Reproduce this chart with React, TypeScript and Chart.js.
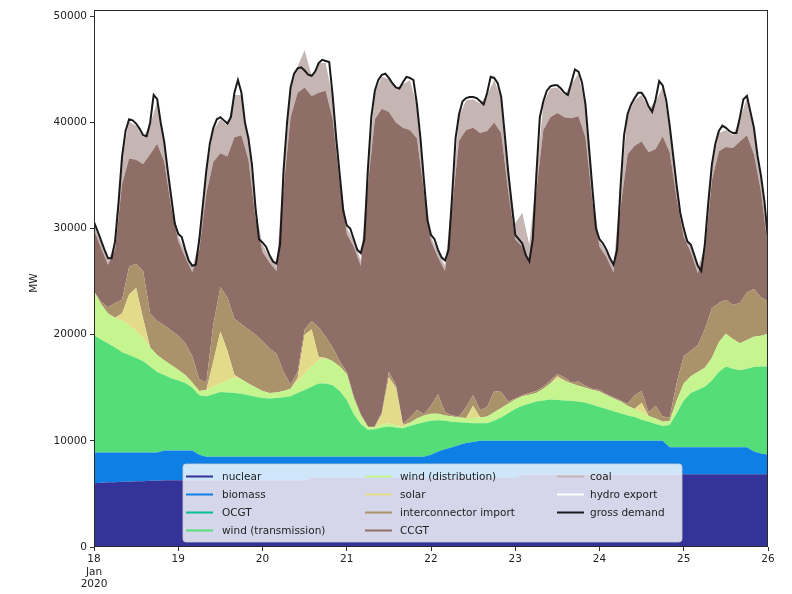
import React, { useEffect, useRef } from "react";
import { Chart, registerables } from "chart.js";

Chart.register(...registerables);

// ---------- tick labels ----------
const X_TICK_HOURS = [0, 24, 48, 72, 96, 120, 144, 168, 192];
const DAY_LABELS = ["18", "19", "20", "21", "22", "23", "24", "25", "26"];
const FIRST_LABEL = ["18", "Jan", "2020"];
const Y_TICKS = [0, 10000, 20000, 30000, 40000, 50000];
const Y_TITLE = "MW";

// time grid (hours since 18 Jan 2020 00:00)
const HOURS_2H = Array.from({ length: 97 }, (_, i) => i * 2);
const HOURS_1H = Array.from({ length: 193 }, (_, i) => i);

// ---------- series (MW), 2-hourly ----------
const NUCLEAR = [
  6000, 6050, 6100, 6100, 6150, 6150, 6200, 6200, 6250, 6250,
  6300, 6300, 6300, 6300, 6300, 6300, 6300, 6300, 6300, 6300,
  6300, 6300, 6300, 6300, 6300, 6300, 6300, 6300, 6300, 6300,
  6300, 6500, 6500, 6500, 6500, 6500, 6500, 6500, 6500, 6500,
  6500, 6500, 6500, 6500, 6500, 6500, 6500, 6500, 6500, 6500,
  6500, 6500, 6500, 6500, 6500, 6500, 6500, 6500, 6500, 6500,
  6500, 6800, 6800, 6800, 6800, 6800, 6800, 6800, 6800, 6800,
  6800, 6800, 6800, 6800, 6800, 6800, 6800, 6800, 6800, 6800,
  6800, 6800, 6800, 6800, 6850, 6850, 6850, 6850, 6850, 6850,
  6850, 6850, 6850, 6850, 6850, 6850, 6850,
];
const BIOMASS = [
  2900, 2850, 2800, 2800, 2750, 2750, 2700, 2700, 2650, 2650,
  2800, 2800, 2800, 2800, 2800, 2400, 2200, 2200, 2200, 2200,
  2200, 2200, 2200, 2200, 2200, 2200, 2200, 2200, 2200, 2200,
  2200, 2000, 2000, 2000, 2000, 2000, 2000, 2000, 2000, 2000,
  2000, 2000, 2000, 2000, 2000, 2000, 2000, 2000, 2200, 2500,
  2700, 2900, 3100, 3300, 3400, 3500, 3500, 3500, 3500, 3500,
  3500, 3200, 3200, 3200, 3200, 3200, 3200, 3200, 3200, 3200,
  3200, 3200, 3200, 3200, 3200, 3200, 3200, 3200, 3200, 3200,
  3200, 3200, 2600, 2600, 2550, 2550, 2550, 2550, 2550, 2550,
  2550, 2550, 2550, 2550, 2150, 1950, 1850,
];
const OCGT = [
  0, 0, 0, 0, 0, 0, 0, 0, 0, 0,
  0, 0, 0, 0, 0, 0, 0, 0, 0, 0,
  0, 0, 0, 0, 0, 0, 0, 0, 0, 0,
  0, 0, 0, 0, 0, 0, 0, 0, 0, 0,
  0, 0, 0, 0, 0, 0, 0, 0, 0, 0,
  0, 0, 0, 0, 0, 0, 0, 0, 0, 0,
  0, 0, 0, 0, 0, 0, 0, 0, 0, 0,
  0, 0, 0, 0, 0, 0, 0, 0, 0, 0,
  0, 0, 0, 0, 0, 0, 0, 0, 0, 0,
  0, 0, 0, 0, 0, 0, 0,
];
const WIND_TRANSMISSION = [
  11050, 10650, 10280, 9900, 9450, 9200, 8900, 8600, 8100, 7600,
  7100, 6800, 6600, 6350, 5900, 5600, 5700, 5900, 6100, 6050,
  6000, 5950, 5800, 5650, 5550, 5500, 5550, 5600, 5700, 6000,
  6300, 6600, 6900, 6900, 6750, 6200, 5350, 4000, 3100, 2550,
  2600, 2750, 2850, 2750, 2680, 2900, 3100, 3250, 3200, 2950,
  2700, 2400, 2150, 1900, 1750, 1650, 1650, 1900, 2200, 2600,
  3000, 3300, 3500, 3700, 3800, 3900, 3850, 3800, 3750, 3700,
  3600, 3400, 3200, 3000, 2800, 2600, 2400, 2250, 2000, 1800,
  1600, 1400, 2100, 3200, 4400, 5100, 5400, 5700, 6300, 7100,
  7600, 7400, 7250, 7400, 7950, 8200, 8300,
];
const WIND_DISTRIBUTION = [
  4150, 3350, 2820, 2800, 3000, 2800, 2550, 2200, 1800, 1600,
  1400, 1250, 1000, 750, 500, 400, 600, 700, 800, 1150,
  1500, 1350, 1100, 900, 650, 500, 500, 600, 700, 1100,
  1550, 1900, 2200, 2400, 2250, 2300, 2450, 1500, 800, 250,
  200, 300, 300, 250, 170, 300, 500, 650, 650, 600,
  500, 500, 450, 450, 500, 550, 650, 800, 900, 900,
  900, 900, 850, 800, 1100, 1500, 1950, 1900, 1650, 1500,
  1400, 1400, 1450, 1300, 1200, 1100, 900, 750, 700, 550,
  500, 400, 400, 1200, 1600, 1600, 1700, 1800, 2100, 2800,
  3100, 2800, 2550, 2700, 2850, 2900, 3100,
];
const SOLAR = [
  0, 0, 0, 0, 650, 2900, 4050, 1800, 0, 0,
  0, 0, 0, 0, 0, 0, 0, 2400, 4900, 2800,
  200, 0, 0, 0, 0, 0, 0, 0, 0, 300,
  3650, 3500, 300, 0, 0, 0, 0, 0, 0, 0,
  0, 950, 4350, 3500, 150, 0, 0, 0, 0, 0,
  0, 0, 0, 0, 1150, 0, 0, 0, 0, 0,
  0, 0, 0, 0, 0, 0, 300, 0, 0, 0,
  0, 0, 0, 0, 0, 0, 0, 0, 900, 0,
  0, 0, 0, 0, 0, 0, 0, 0, 0, 0,
  0, 0, 0, 0, 0, 0, 0,
];
const INTERCONNECTOR_IMPORT = [
  0, 200, 600, 1400, 1300, 2600, 2300, 4500, 3200, 3200,
  3300, 3250, 3200, 3000, 2500, 1100, 700, 3500, 4200, 5000,
  5300, 5200, 5100, 4950, 4700, 4200, 3650, 1800, 400, 600,
  500, 800, 2800, 2000, 1300, 500, 200, 200, 100, 100,
  100, 200, 500, 300, 100, 500, 800, 100, 750, 1850,
  300, 100, 100, 1050, 1000, 700, 900, 2000, 1500, 200,
  100, 100, 150, 200, 200, 300, 200, 300, 100, 400,
  200, 100, 150, 100, 100, 100, 200, 1300, 1100, 350,
  1200, 500, 300, 1700, 2600, 2400, 2500, 3600, 4700, 3700,
  3200, 3200, 3800, 4500, 4500, 3600, 3100,
];
const CCGT = [
  5800, 5100, 4000, 5000, 10900, 10200, 9800, 10100, 15000, 16700,
  15400, 11600, 8900, 8100, 7900, 12200, 17800, 15300, 12600, 13300,
  17100, 17800, 16000, 11000, 8400, 8100, 7800, 17300, 25200, 26300,
  22800, 21200, 22100, 23200, 21500, 16800, 13000, 14100, 14000, 22600,
  28900, 28600, 24500, 24700, 27900, 27100, 25600, 21000, 15500, 12900,
  13300, 19600, 26000, 26100, 25200, 26100, 26000, 25300, 24400, 19800,
  15000, 14000, 12200, 18800, 24200, 24800, 24600, 24500, 24900, 25000,
  23400, 17600, 13500, 12900, 11800, 18200, 23500, 23500, 23500, 24500,
  24200, 26400, 25000, 17300, 11200, 9300, 6800, 7300, 12000, 14300,
  14400, 14800, 15200, 14800, 12700, 10000, 5000,
];
const COAL = [
  500, 500, 400, 600, 2400, 3500, 3200, 2500, 2800, 4000,
  1700, 800, 500, 500, 400, 800, 2000, 3000, 3200, 2900,
  4000, 3800, 1800, 800, 700, 500, 500, 1500, 2600, 2500,
  3500, 1900, 2800, 2600, 2000, 600, 600, 500, 500, 1300,
  2500, 3000, 3100, 3200, 4100, 4700, 3000, 800, 400, 500,
  500, 800, 2300, 2800, 2700, 2800, 3400, 4000, 3200, 1700,
  1500, 3200, 1800, 1300, 2500, 2700, 2400, 2100, 3200, 4000,
  2900, 1000, 500, 500, 500, 1800, 3600, 4300, 4400, 4100,
  4500, 4600, 2300, 1000, 600, 500, 500, 500, 1300, 1700,
  1600, 1200, 2100, 3500, 2300, 1300, 600,
];
const HYDRO_EXPORT = [
  200, 200, 300, 200, 0, 0, 0, 0, 0, 0,
  0, 200, 200, 300, 300, 200, 0, 0, 0, 0,
  0, 0, 0, 200, 300, 300, 300, 0, 0, 0,
  0, 0, 0, 0, 0, 0, 300, 300, 400, 0,
  0, 0, 0, 0, 0, 0, 0, 0, 300, 400,
  400, 0, 0, 0, 0, 0, 0, 0, 0, 0,
  0, 0, 0, 0, 0, 0, 0, 0, 0, 0,
  0, 0, 300, 300, 300, 0, 0, 0, 0, 0,
  0, 0, 0, 0, 300, 300, 300, 300, 0, 0,
  0, 0, 0, 0, 0, 0, 200,
];

// ---------- gross demand (MW), hourly ----------
const GROSS_DEMAND = [
  30600, 29800, 28900, 28000, 27200, 27200, 28800, 32500, 36800, 39200, 40300, 40200,
  39900, 39400, 38800, 38700, 40000, 42600, 42200, 40000, 38200, 35500, 33000, 30500,
  29500, 29200, 28000, 27000, 26500, 26600, 29000, 32200, 35500, 38000, 39500, 40300,
  40500, 40200, 39900, 40500, 42800, 44000, 42800, 40000, 38500, 36000, 32000, 29000,
  28700, 28300, 27500, 26900, 26700, 28500, 35500, 40000, 43300, 44600, 45100, 45200,
  44900, 44500, 44400, 44800, 45600, 45900, 45800, 45700, 42500, 38500, 35100, 31700,
  30300, 30000, 29000, 28000, 27700, 29000, 35500, 40500, 43000, 44000, 44500, 44600,
  44200, 43700, 43300, 43200, 43800, 44300, 44200, 44000, 41700, 38500, 34500, 30800,
  29400, 29000, 28000, 27300, 27000, 28000, 33000, 38500, 40800, 42000, 42300, 42400,
  42400, 42300, 42000, 41700, 42800, 44300, 44200, 43700, 42400, 38900, 35350, 32300,
  29400, 29000, 28600, 27500, 26900, 29000, 35000, 40500, 42000, 43000, 43400, 43500,
  43500, 43200, 42800, 42600, 43800, 45000, 44800, 43800, 41700, 37700, 33700, 30000,
  29000, 28600, 28000, 27200, 26600, 28000, 34000, 38800, 40800, 41700, 42300, 42800,
  42800, 42300, 41500, 41000, 42200, 43900, 43500, 42100, 39700, 36850, 34000, 31500,
  30000, 28800, 28500, 27500, 26500, 26000, 28500, 32500, 36000, 38000, 39200, 39700,
  39500, 39200, 39000, 39000, 40500, 42200, 42500, 41000, 39500, 36900, 35000, 32500,
  29000,
];

const SERIES_NAMES = [
  "nuclear", "biomass", "OCGT", "wind (transmission)", "wind (distribution)",
  "solar", "interconnector import", "CCGT", "coal", "hydro export",
];
const SERIES_VALUES = [
  NUCLEAR, BIOMASS, OCGT, WIND_TRANSMISSION, WIND_DISTRIBUTION,
  SOLAR, INTERCONNECTOR_IMPORT, CCGT, COAL, HYDRO_EXPORT,
];
// matplotlib "terrain" colormap sampled at k/9
const SERIES_COLORS = [
  "#333399", "#0d7fe5", "#00be91", "#55dd77", "#c6f48e",
  "#e3db8a", "#aa926b", "#8e6e67", "#c6b6b3", "#ffffff",
];
const DEMAND_NAME = "gross demand";
const DEMAND_COLOR = "#1a1a1a";

const FONT = "'DejaVu Sans', 'Liberation Sans', sans-serif";
const FONT_SIZE = 10.5;

const framePlugin = {
  id: "frame",
  afterDatasetsDraw(chart: any) {
    const { ctx, chartArea: a } = chart;
    ctx.save();
    ctx.strokeStyle = "#2b2b2b";
    ctx.lineWidth = 1;
    ctx.strokeRect(Math.round(a.left) + 0.5, Math.round(a.top) + 0.5,
      Math.round(a.right - a.left) - 1, Math.round(a.bottom - a.top) - 1);
    ctx.restore();
  },
};

const overlayPlugin = {
  id: "overlay",
  afterDraw(chart: any) {
    const { ctx } = chart;
    ctx.save();
    // y-axis title
    ctx.fillStyle = "#222";
    ctx.font = `${FONT_SIZE}px ${FONT}`;
    ctx.textAlign = "center";
    ctx.textBaseline = "middle";
    ctx.translate(34, 283);
    ctx.rotate(-Math.PI / 2);
    ctx.fillText(Y_TITLE, 0, 0);
    ctx.restore();

    // legend box inside the plot, bottom-centre
    const bx = 183, by = 464, bw = 499, bh = 78, r = 3;
    ctx.save();
    ctx.beginPath();
    ctx.moveTo(bx + r, by);
    ctx.lineTo(bx + bw - r, by);
    ctx.quadraticCurveTo(bx + bw, by, bx + bw, by + r);
    ctx.lineTo(bx + bw, by + bh - r);
    ctx.quadraticCurveTo(bx + bw, by + bh, bx + bw - r, by + bh);
    ctx.lineTo(bx + r, by + bh);
    ctx.quadraticCurveTo(bx, by + bh, bx, by + bh - r);
    ctx.lineTo(bx, by + r);
    ctx.quadraticCurveTo(bx, by, bx + r, by);
    ctx.closePath();
    ctx.fillStyle = "rgba(255,255,255,0.8)";
    ctx.fill();
    ctx.strokeStyle = "rgba(204,204,204,0.8)";
    ctx.lineWidth = 1;
    ctx.stroke();

    const colHandle = [186, 365, 557];
    const colText = [222, 400, 590];
    const rowY = [476, 494, 512, 530];
    const items = chart.data.datasets.map((d: any) => ({
      label: d.label,
      color: d.label === DEMAND_NAME ? d.borderColor : d.backgroundColor,
    }));
    ctx.font = `${FONT_SIZE}px ${FONT}`;
    ctx.textAlign = "left";
    ctx.textBaseline = "middle";
    items.forEach((it: any, k: number) => {
      const col = Math.floor(k / 4);
      const row = k % 4;
      const y = rowY[row];
      ctx.strokeStyle = it.color;
      ctx.lineWidth = 2;
      ctx.beginPath();
      ctx.moveTo(colHandle[col], y + 0.5);
      ctx.lineTo(colHandle[col] + 27, y + 0.5);
      ctx.stroke();
      ctx.fillStyle = "#222";
      ctx.fillText(it.label, colText[col], y + 1);
    });
    ctx.restore();
  },
};

export default function App() {
  const ref = useRef<HTMLCanvasElement>(null);

  useEffect(() => {
    const canvas = ref.current;
    if (!canvas) return;

    const stacked = SERIES_NAMES.map((name, k) => ({
      label: name,
      data: HOURS_2H.map((x, i) => ({ x, y: SERIES_VALUES[k][i] })),
      backgroundColor: SERIES_COLORS[k],
      borderColor: "rgba(0,0,0,0)",
      borderWidth: 0,
      pointRadius: 0,
      fill: k === 0 ? "origin" : "-1",
      stack: "generation",
      tension: 0,
      order: 1,
    }));

    const demand = {
      label: DEMAND_NAME,
      data: HOURS_1H.map((x, i) => ({ x, y: GROSS_DEMAND[i] })),
      borderColor: DEMAND_COLOR,
      backgroundColor: DEMAND_COLOR,
      borderWidth: 2,
      pointRadius: 0,
      fill: false,
      stack: "demand",
      tension: 0,
      order: 0,
    };

    const tickFont = { family: FONT, size: FONT_SIZE };

    const chart = new Chart(canvas, {
      type: "line",
      data: { datasets: [...stacked, demand] as any },
      options: {
        animation: false,
        responsive: false,
        maintainAspectRatio: false,
        devicePixelRatio: 1,
        events: [],
        layout: { padding: { left: 0, right: 24, top: 10, bottom: 0 } },
        plugins: { legend: { display: false }, tooltip: { enabled: false } },
        scales: {
          x: {
            type: "linear",
            min: 0,
            max: 192,
            afterBuildTicks: (s: any) => {
              s.ticks = X_TICK_HOURS.map((v) => ({ value: v }));
            },
            afterFit: (s: any) => {
              s.height = 47;
            },
            ticks: {
              autoSkip: false,
              maxRotation: 0,
              minRotation: 0,
              padding: 2,
              color: "#222",
              font: tickFont,
              callback: (v: any) => {
                const idx = X_TICK_HOURS.indexOf(Number(v));
                if (idx === 0) return FIRST_LABEL;
                return idx >= 0 ? DAY_LABELS[idx] : "";
              },
            },
            grid: {
              display: true,
              drawOnChartArea: false,
              drawTicks: true,
              tickLength: 4,
              tickColor: "#333",
            },
            border: { display: false },
          },
          y: {
            type: "linear",
            stacked: true,
            min: 0,
            max: 50600,
            afterBuildTicks: (s: any) => {
              s.ticks = Y_TICKS.map((v) => ({ value: v }));
            },
            afterFit: (s: any) => {
              s.width = 94;
            },
            ticks: {
              padding: 3,
              color: "#222",
              font: tickFont,
              callback: (v: any) => String(v),
            },
            grid: {
              display: true,
              drawOnChartArea: false,
              drawTicks: true,
              tickLength: 4,
              tickColor: "#333",
            },
            border: { display: false },
          },
        },
      },
      plugins: [framePlugin, overlayPlugin],
    } as any);

    return () => chart.destroy();
  }, []);

  return (
    <div style={{ position: "fixed", left: 0, top: 0, width: 792, height: 594, background: "#fff" }}>
      <canvas ref={ref} width={792} height={594} style={{ display: "block", width: 792, height: 594 }} />
    </div>
  );
}
